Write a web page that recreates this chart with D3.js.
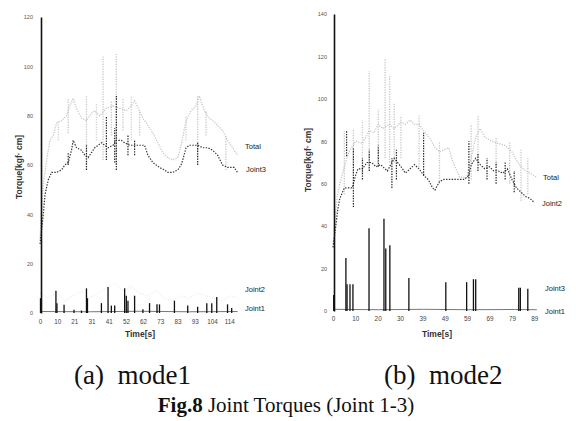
<!DOCTYPE html>
<html><head><meta charset="utf-8">
<script src="https://cdn.jsdelivr.net/npm/d3@7"></script>
<style>body{margin:0;background:#fff}</style></head>
<body><svg id="c" width="576" height="421"></svg>
<script>
// ---------- Panel (a) mode1 ----------
const xTicksA = [0,10.4,20.7,31.1,41.4,51.8,62.1,72.5,82.9,93.2,103.6,114];
const xLabelsA = ["0","10","21","31","41","52","62","73","83","93","104","114"];
const yTicksA = [0,20,40,60,80,100,120];

const totalA = [[0,30],[1,42],[2,52],[4,62],[6,70],[8,72],[10,77],[13,78],[16,80],[18,84],[20,87],[22,83],[25,79],[28,78],[31,81],[33,82],[36,80],[40,83],[44,84],[48,83],[52,82],[55,84],[57,86],[60,82],[62,79],[65,76],[68,73],[71,69],[74,65],[77,63],[80,62],[83,63],[85,68],[88,78],[91,82],[94,84],[96,88],[99,82],[102,79],[104,78],[107,76],[110,74],[113,70],[116,67],[119,64]];
const totalSpikesA = [[11,70,78],[17,73,87],[28,58,88],[34,70,85],[38,62,104],[43,72,86],[46,60,105],[50,74,87],[55,70,88],[60,72,82],[88,70,80],[95,62,88],[100,72,82],[112,58,72]];
const joint3A = [[0,28],[1,34],[2,40],[3,48],[5,54],[7,57],[10,57],[13,58],[15,60],[17,61],[19,66],[20,70],[22,67],[25,66],[27,64],[29,63],[31,65],[33,67],[35,68],[37,69],[39,68],[41,67],[44,68],[46,70],[49,70],[51,69],[54,68],[57,68],[60,68],[63,68],[65,64],[68,61],[72,59],[75,58],[77,57],[80,57],[83,58],[85,60],[86,62],[88,67],[90,68],[92,68],[95,68],[98,67],[101,67],[104,66],[107,64],[110,60],[113,59],[117,59],[119,57]];
const joint3SpikesA = [[17,60,65],[28,58,68],[40,62,80],[45,61,75],[46,58,88],[53,64,72],[57,64,70],[95,60,69]];
const joint2A = [[0,8],[5,6],[10,8],[15,5],[20,7],[25,9],[30,6],[35,8],[40,10],[45,12],[50,9],[55,11],[60,8],[65,7],[70,9],[75,6],[80,5],[85,7],[90,6],[95,8],[100,7],[105,6],[110,5],[115,7],[119,6]];
const joint1A = [[0.3,6],[9.6,9],[10.2,4],[14.5,3.3],[20.5,1.3],[25,1],[28,10],[28.6,6],[37,4],[41,10.5],[43,3],[45,3],[51,10],[52,7],[53,5],[57,7],[62,1.5],[66,4],[70.5,3.5],[72,3.5],[81,5],[89,3],[95,2.5],[100.5,4],[103.5,4],[106.5,6.5],[113,3.5],[115.5,2]];
const joint1BaseA = [[0,0.6],[30,0.5],[60,0.7],[90,0.5],[119,0.6]];

// ---------- Panel (b) mode2 ----------
const xTicksB = [0,9.87,19.7,29.6,39.5,49.3,59.2,69.1,79.0,88.8];
const xLabelsB = ["0","10","20","30","39","49","59","69","79","89"];
const yTicksB = [0,20,40,60,80,100,120,140];

const totalB = [[0,30],[1,45],[2,55],[3,60],[5,68],[7,75],[10,80],[13,79],[16,85],[18,84],[20,88],[22,86],[25,88],[27,86],[30,89],[32,88],[34,90],[36,88],[38,88],[40,85],[43,81],[45,77],[47,75],[49,76],[51,77],[53,70],[56,63],[59,63],[61,72],[63,82],[65,86],[67,82],[70,80],[73,79],[76,78],[79,75],[81,71],[83,68],[85,66],[87,65],[90,63]];
const totalSpikesB = [[5,55,85],[9,60,86],[13,65,90],[16,68,113],[20,70,95],[23,72,119],[25,70,111],[27,70,98],[30,72,92],[38,68,92],[47,60,80],[61,62,88],[64,70,92],[72,68,82],[78,60,80],[83,52,76],[86,55,72]];
const joint2B = [[0,30],[1,38],[2,47],[3,53],[5,58],[7,58],[8.5,58],[10,64],[11,67],[13,67],[15,70],[17,70],[19,68],[21,69],[24,66],[27,72],[30,68],[32,65],[34,67],[36,69],[38,67],[40,64],[42,62],[44,58],[45,57],[47,61],[49,62],[52,62],[55,62],[58,62],[60,64],[61,69],[63,72],[65,69],[67,67],[69,68],[71,66],[73,66],[75,65],[77,67],[79,62],[81,58],[83,56],[85,54],[87,53],[89,51]];
const joint2SpikesB = [[6,73,85],[9,49,77],[13,62,72],[16,66,76],[20,68,78],[26,58,72],[28,62,76],[40,64,84],[60,60,80],[64,66,74],[68,62,72],[72,60,70],[76,62,70],[80,56,66]];
const joint3B = [[0.3,7.5],[5.7,25],[6.2,12.6],[7.5,12.6],[8.8,12.6],[15.9,39],[22.5,43.5],[23.3,29.5],[25.1,31],[33.5,15.5],[49.8,13.6],[59,13.6],[62,15],[63,15],[82,11],[82.7,11],[86,10.5]];
const joint1B = [[0,0.8],[20,0.6],[40,0.8],[60,0.6],[80,0.7],[90,0.6]];

const SANS = '"Liberation Sans", Arial, sans-serif';
const SERIF = '"Liberation Serif", "Times New Roman", serif';
const svg = d3.select("#c");

function drawPanel(o) {
  const g = svg.append("g");
  const x = o.x, y = o.y;
  const line = d3.line().x(d => x(d[0])).y(d => y(d[1]));
  g.append("path").datum(o.total).attr("d", line).attr("fill","none")
    .attr("stroke","#c6c6c6").attr("stroke-width",1.3).attr("stroke-dasharray","1.2,1.3");
  g.selectAll(null).data(o.totalSpikes).enter().append("line")
    .attr("x1",d=>x(d[0])).attr("x2",d=>x(d[0])).attr("y1",d=>y(d[1])).attr("y2",d=>y(d[2]))
    .attr("stroke","#c6c6c6").attr("stroke-width",1.3).attr("stroke-dasharray","1.2,1.3");
  if (o.light) g.append("path").datum(o.light).attr("d", line).attr("fill","none")
    .attr("stroke","#e6e6e6").attr("stroke-width",1).attr("stroke-dasharray","1,1.5");
  g.append("path").datum(o.dark).attr("d", line).attr("fill","none")
    .attr("stroke","#333").attr("stroke-width",1.2).attr("stroke-dasharray","1.4,1.4");
  g.selectAll(null).data(o.darkSpikes).enter().append("line")
    .attr("x1",d=>x(d[0])).attr("x2",d=>x(d[0])).attr("y1",d=>y(d[1])).attr("y2",d=>y(d[2]))
    .attr("stroke","#222").attr("stroke-width",1.2).attr("stroke-dasharray","1.4,1.2");
  g.append("path").datum(o.base).attr("d", line).attr("fill","none")
    .attr("stroke","#777").attr("stroke-width",1);
  g.selectAll(null).data(o.bars).enter().append("line")
    .attr("x1",d=>x(d[0])).attr("x2",d=>x(d[0])).attr("y1",y(0)).attr("y2",d=>y(d[1]))
    .attr("stroke","#111").attr("stroke-width",1.3);
  const ya = d3.axisLeft(y).tickValues(o.yTicks).tickSize(0).tickPadding(o.yPad);
  const yg = g.append("g").attr("transform",`translate(${x(0)+1},0)`).call(ya);
  yg.select(".domain").attr("stroke","#111").attr("stroke-width",1.6);
  yg.selectAll("text").attr("font-size",5.5).attr("fill","#555").style("font-family",SANS);
  const xa = d3.axisBottom(x).tickValues(o.xTicks).tickSize(0).tickPadding(o.xPad)
    .tickFormat((d,i) => o.xLabels[i]);
  const xg = g.append("g").attr("transform",`translate(0,${y(0)})`).call(xa);
  xg.select(".domain").remove();
  xg.selectAll("text").attr("font-size",6.3).attr("fill","#444").style("font-family",SANS);
  g.append("text").attr("transform",`translate(${o.ytX},${o.ytY}) rotate(-90)`)
    .attr("text-anchor","middle").attr("font-size",8.5).attr("font-weight","bold").attr("fill","#333")
    .style("font-family",SANS).text("Torque[kgf· cm]");
  g.append("text").attr("x",o.xtX).attr("y",o.xtY).attr("text-anchor","middle")
    .attr("font-size",8.5).attr("font-weight","bold").attr("fill","#333").style("font-family",SANS).text("Time[s]");
  o.labels.forEach(l => g.append("text").attr("x",l[1]).attr("y",l[2]).attr("font-size",7.5)
    .attr("fill","#222").style("font-family",SANS).text(l[0]));
}

drawPanel({
  x: d3.scaleLinear().domain([0,119.3]).range([40,238]),
  y: d3.scaleLinear().domain([0,120]).range([313,17]),
  total: totalA, totalSpikes: totalSpikesA, light: joint2A,
  dark: joint3A, darkSpikes: joint3SpikesA, base: joint1BaseA, bars: joint1A,
  yTicks: yTicksA, xTicks: xTicksA, xLabels: xLabelsA, yPad: 8, xPad: 7,
  ytX: 22, ytY: 167, xtX: 140, xtY: 337,
  labels: [["Total",245,149],["Joint3",246,172],["Joint2",245,292],["Joint1",245,311]]
});
drawPanel({
  x: d3.scaleLinear().domain([0,90.5]).range([333,538]),
  y: d3.scaleLinear().domain([0,140]).range([311,14]),
  total: totalB, totalSpikes: totalSpikesB, light: null,
  dark: joint2B, darkSpikes: joint2SpikesB, base: joint1B, bars: joint3B,
  yTicks: yTicksB, xTicks: xTicksB, xLabels: xLabelsB, yPad: 7, xPad: 6,
  ytX: 311, ytY: 160, xtX: 437, xtY: 337,
  labels: [["Total",543,180],["Joint2",542,206],["Joint3",545,291],["Joint1",545,314]]
});

const cap = svg.append("g").attr("fill","#111");
cap.append("text").attr("x",74).attr("y",384).attr("font-size",27).style("white-space","pre")
  .style("font-family",SERIF).text("(a)  mode1");
cap.append("text").attr("x",384).attr("y",384).attr("font-size",27).style("white-space","pre")
  .style("font-family",SERIF).text("(b)  mode2");
const fig = cap.append("text").attr("x",286).attr("y",412).attr("text-anchor","middle")
  .attr("font-size",21).style("font-family",SERIF);
fig.append("tspan").attr("font-weight","bold").text("Fig.8");
fig.append("tspan").text(" Joint Torques (Joint 1-3)");
</script></body></html>
